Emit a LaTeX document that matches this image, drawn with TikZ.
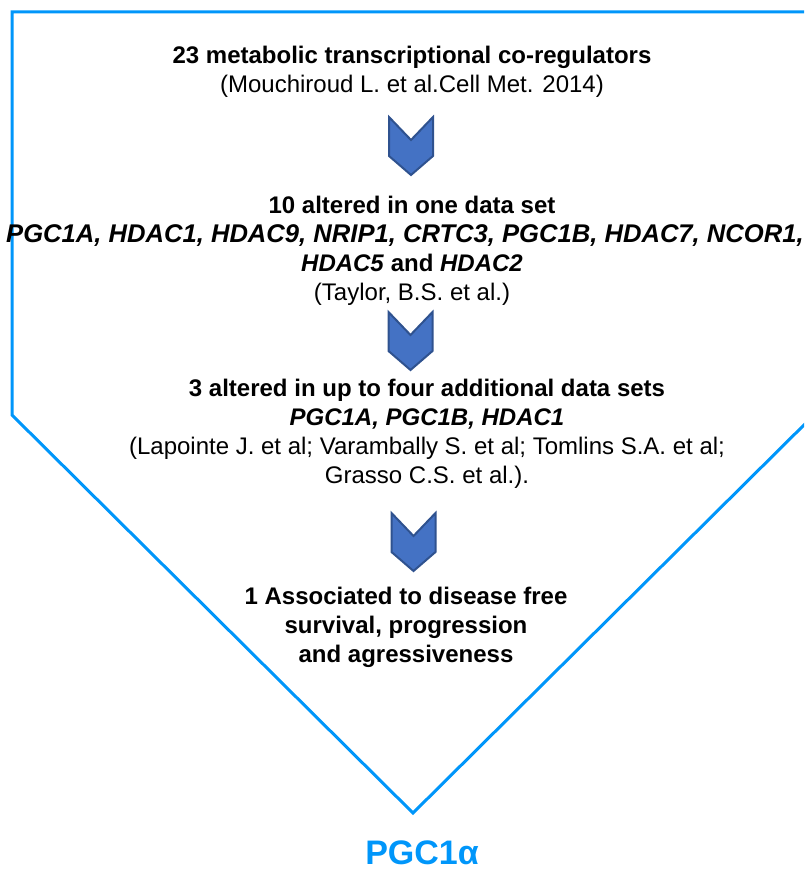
\documentclass[tikz,border=0pt]{standalone}
\usepackage{fontspec}
\setmainfont{Liberation Sans}
\definecolor{outl}{RGB}{0,150,250}
\definecolor{chevfill}{RGB}{68,114,196}
\definecolor{chevline}{RGB}{47,82,143}
\tikzset{
  txt/.style={align=center, inner sep=0pt, font=\fontsize{24}{29}\selectfont, text=black},
  chevshape/.style={fill=chevfill, draw=chevline, line width=2pt, line join=miter},
  pics/chev/.style={code={
    \draw[chevshape] (-22,0) -- (0,23) -- (22,0) -- (22,39) -- (0,58) -- (-22,39) -- cycle;
  }},
  outline/.style={draw=outl, line width=3pt, line join=miter},
}
\begin{document}
\begin{tikzpicture}[x=1pt,y=-1pt]
\useasboundingbox (0,0) rectangle (804,875);
\begin{scope}
\clip (0,0) rectangle (804,875);
\coordinate (tl) at (12,12);
\coordinate (lc) at (12,415);
\coordinate (bv) at (413,813);
\coordinate (rc) at (814,415);
\coordinate (tr) at (814,12);
\draw[outline] (tr) -- (tl) -- (lc) -- (bv) -- (rc) -- (tr);
\end{scope}

\node[txt] (b1) at (412,72) {\textbf{23 metabolic transcriptional co-regulators}\\(Mouchiroud L. et al.Cell Met. 2014)};

\pic at (411,117) {chev};

\node[txt, anchor=base] (b2a) at (412,213) {\textbf{10 altered in one data set}};
\node[txt, anchor=base, font=\fontsize{25.6}{29}\selectfont] (b2b) at (405,242) {\textbf{\textit{PGC1A, HDAC1, HDAC9, NRIP1, CRTC3, PGC1B, HDAC7, NCOR1,}}};
\node[txt, anchor=base] (b2c) at (412,271) {\textbf{\textit{HDAC5} and \textit{HDAC2}}};
\node[txt, anchor=base] (b2d) at (412,300) {(Taylor, B.S. et al.)};

\pic at (410.5,312) {chev};

\node[txt] (b3) at (427,433.5) {\textbf{3 altered in up to four additional data sets}\\
\textbf{\textit{PGC1A, PGC1B, HDAC1}}\\
(Lapointe J. et al; Varambally S. et al; Tomlins S.A. et al;\\
Grasso C.S. et al.).};

\pic at (413.5,513) {chev};

\node[txt] (b4) at (406,627) {\textbf{1 Associated to disease free}\\
\textbf{survival, progression}\\
\textbf{and agressiveness}};

\node[inner sep=0pt, text=outl, font=\fontsize{34}{40}\selectfont\bfseries] (pgc) at (422,853) {PGC1α};
\end{tikzpicture}
\end{document}
